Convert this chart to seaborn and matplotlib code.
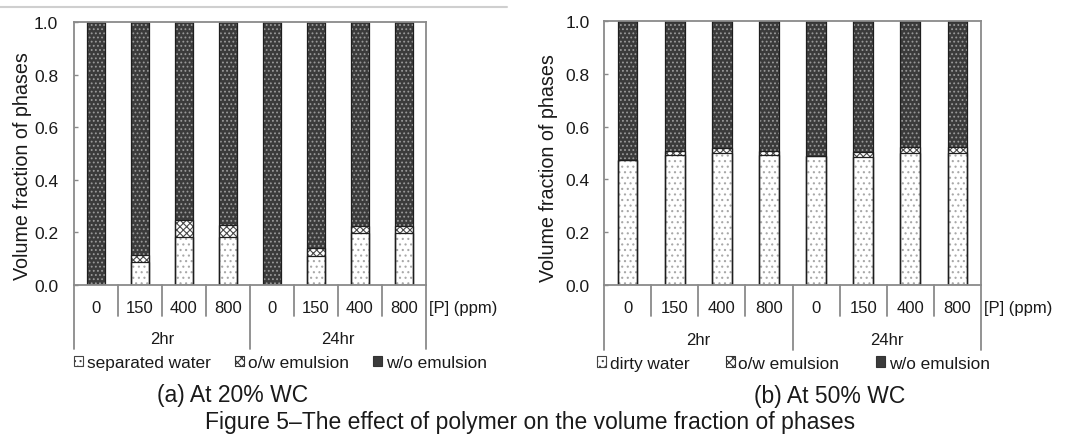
import matplotlib
matplotlib.use('Agg')
import matplotlib.pyplot as plt
import matplotlib.transforms as mtrans
from matplotlib.patches import Patch
from matplotlib.lines import Line2D
import seaborn as sns
import pandas as pd

# ---------------- data ----------------
ppm_levels = ['0', '150', '400', '800']
time_levels = ['2hr', '24hr']

water_20 = [0.0, 0.087, 0.182, 0.182, 0.0, 0.111, 0.197, 0.197]
ow_20 = [0.0, 0.028, 0.064, 0.046, 0.0, 0.028, 0.026, 0.026]

water_50 = [0.474, 0.492, 0.499, 0.492, 0.489, 0.484, 0.499, 0.499]
ow_50 = [0.0, 0.016, 0.019, 0.016, 0.0, 0.020, 0.023, 0.023]

y_ticks = [0.0, 0.2, 0.4, 0.6, 0.8, 1.0]
y_tick_labels = ['0.0', '0.2', '0.4', '0.6', '0.8', '1.0']

legend_20 = ['separated water', 'o/w emulsion', 'w/o emulsion']
legend_50 = ['dirty water', 'o/w emulsion', 'w/o emulsion']

captions = ['(a) At 20% WC', '(b) At 50% WC']
fig_caption = 'Figure 5\u2013The effect of polymer on the volume fraction of phases'
y_label = 'Volume fraction of phases'
unit_label = '[P] (ppm)'

# ---------------- style ----------------
sns.set_style('white')
plt.rcParams['font.family'] = ['Liberation Sans', 'DejaVu Sans']
plt.rcParams['hatch.linewidth'] = 0.8

W, H = 1075, 435
DARK = '#3b3b3b'
DARK_DOTS = '#9a9a9a'
OW_HATCH = '#4a4a4a'
WATER_DOTS = '#a8a8a8'
OUTLINE = '#1e1e1e'
SPINE = '#8a8a8a'
TEXT = '#1a1a1a'

fig = plt.figure(figsize=(W / 100, H / 100), dpi=100)

cats = [f'{t}|{p}' for t in time_levels for p in ppm_levels]


def px_axes(x0, x1, y0, y1):
    return fig.add_axes([x0 / W, 1 - y1 / H, (x1 - x0) / W, (y1 - y0) / H])


def draw_panel(ax, water, ow, labels, colspacing, leg_x, tick_pad):
    df = pd.DataFrame({'cat': cats, 'water': water, 'ow': ow})
    df['wo'] = 1.0 - df['water'] - df['ow']
    df['lvl2'] = df['water'] + df['ow']
    df['lvl3'] = df['lvl2'] + df['wo']
    common = dict(data=df, x='cat', order=cats, width=0.42, errorbar=None,
                  ax=ax, saturation=1)
    sns.barplot(y='lvl3', color=DARK, edgecolor=DARK_DOTS, linewidth=0,
                hatch='....', **common)
    sns.barplot(y='lvl2', color='white', edgecolor=OW_HATCH, linewidth=0,
                hatch='xxxxx', **common)
    sns.barplot(y='water', color='white', edgecolor=WATER_DOTS, linewidth=0,
                hatch='...', **common)
    for col in ['lvl3', 'lvl2', 'water']:
        sns.barplot(y=col, fill=False, color=OUTLINE, linewidth=0.9, **common)

    n = len(cats)
    ax.set_xlim(-0.5, n - 0.5)
    ax.set_ylim(0, 1.0)
    ax.set_yticks(y_ticks)
    ax.set_yticklabels(y_tick_labels)
    ax.set_xticks([])
    ax.set_xlabel('')
    ax.set_ylabel('')
    ax.tick_params(axis='y', direction='in', length=3, width=1, color=SPINE,
                   labelsize=12.5, pad=tick_pad, labelcolor=TEXT, left=True)
    for s in ax.spines.values():
        s.set_visible(True)
        s.set_color(SPINE)
        s.set_linewidth(1.3)

    tr = mtrans.blended_transform_factory(ax.transData, ax.transAxes)
    # multi-level category axis
    n_per = len(ppm_levels)
    for i in range(n + 1):
        xb = i - 0.5
        long = (i % n_per == 0)
        ax.add_line(Line2D([xb, xb], [0, -0.245 if long else -0.118],
                           transform=tr, color=SPINE, lw=1.3, clip_on=False))
    for i, c in enumerate(cats):
        ax.text(i, -0.084, c.split('|')[1], transform=tr, ha='center',
                va='center', fontsize=12, color=TEXT)
    for g, t in enumerate(time_levels):
        xc = g * n_per + (n_per - 1) / 2
        ax.text(xc, -0.205, t, transform=tr, ha='center', va='center',
                fontsize=12, color=TEXT)
    ax.text(1.008, -0.084, unit_label, transform=ax.transAxes, ha='left',
            va='center', fontsize=12, color=TEXT)

    handles = [
        Patch(facecolor='white', edgecolor='#444444', hatch='...', lw=0.8),
        Patch(facecolor='white', edgecolor='#333333', hatch='xxxx', lw=0.8),
        Patch(facecolor=DARK, edgecolor='#333333', lw=0.8),
    ]
    ax.legend(handles, labels, loc='center left', bbox_to_anchor=(leg_x, -0.296),
              ncol=3, frameon=False, handlelength=0.55, handleheight=0.55,
              handletextpad=0.2, columnspacing=colspacing, borderpad=0,
              borderaxespad=0, fontsize=12.4, labelcolor=TEXT)


ax1 = px_axes(74, 426, 23, 286)
draw_panel(ax1, water_20, ow_20, legend_20, 1.4, 0.0, 11.5)
ax2 = px_axes(604, 981, 22, 286)
draw_panel(ax2, water_50, ow_50, legend_50, 2.1, -0.019, 10.5)

fig.text(23 / W, 1 - 166 / H, y_label, rotation=90, ha='center', va='center',
         fontsize=14.2, color=TEXT)
fig.text(548 / W, 1 - 168 / H, y_label, rotation=90, ha='center', va='center',
         fontsize=14.2, color=TEXT)

fig.text(233 / W, 1 - 396 / H, captions[0], ha='center', va='center',
         fontsize=16.5, color=TEXT)
fig.text(830 / W, 1 - 397 / H, captions[1], ha='center', va='center',
         fontsize=16.5, color=TEXT)
fig.text(530 / W, 1 - 423 / H, fig_caption, ha='center', va='center',
         fontsize=16.5, color=TEXT)

fig.add_artist(Line2D([0, 507 / W], [1 - 8 / H, 1 - 8 / H],
                      transform=fig.transFigure, color='#cfcfcf', lw=1.5))

fig.savefig('out.png', dpi=100, facecolor='white')
